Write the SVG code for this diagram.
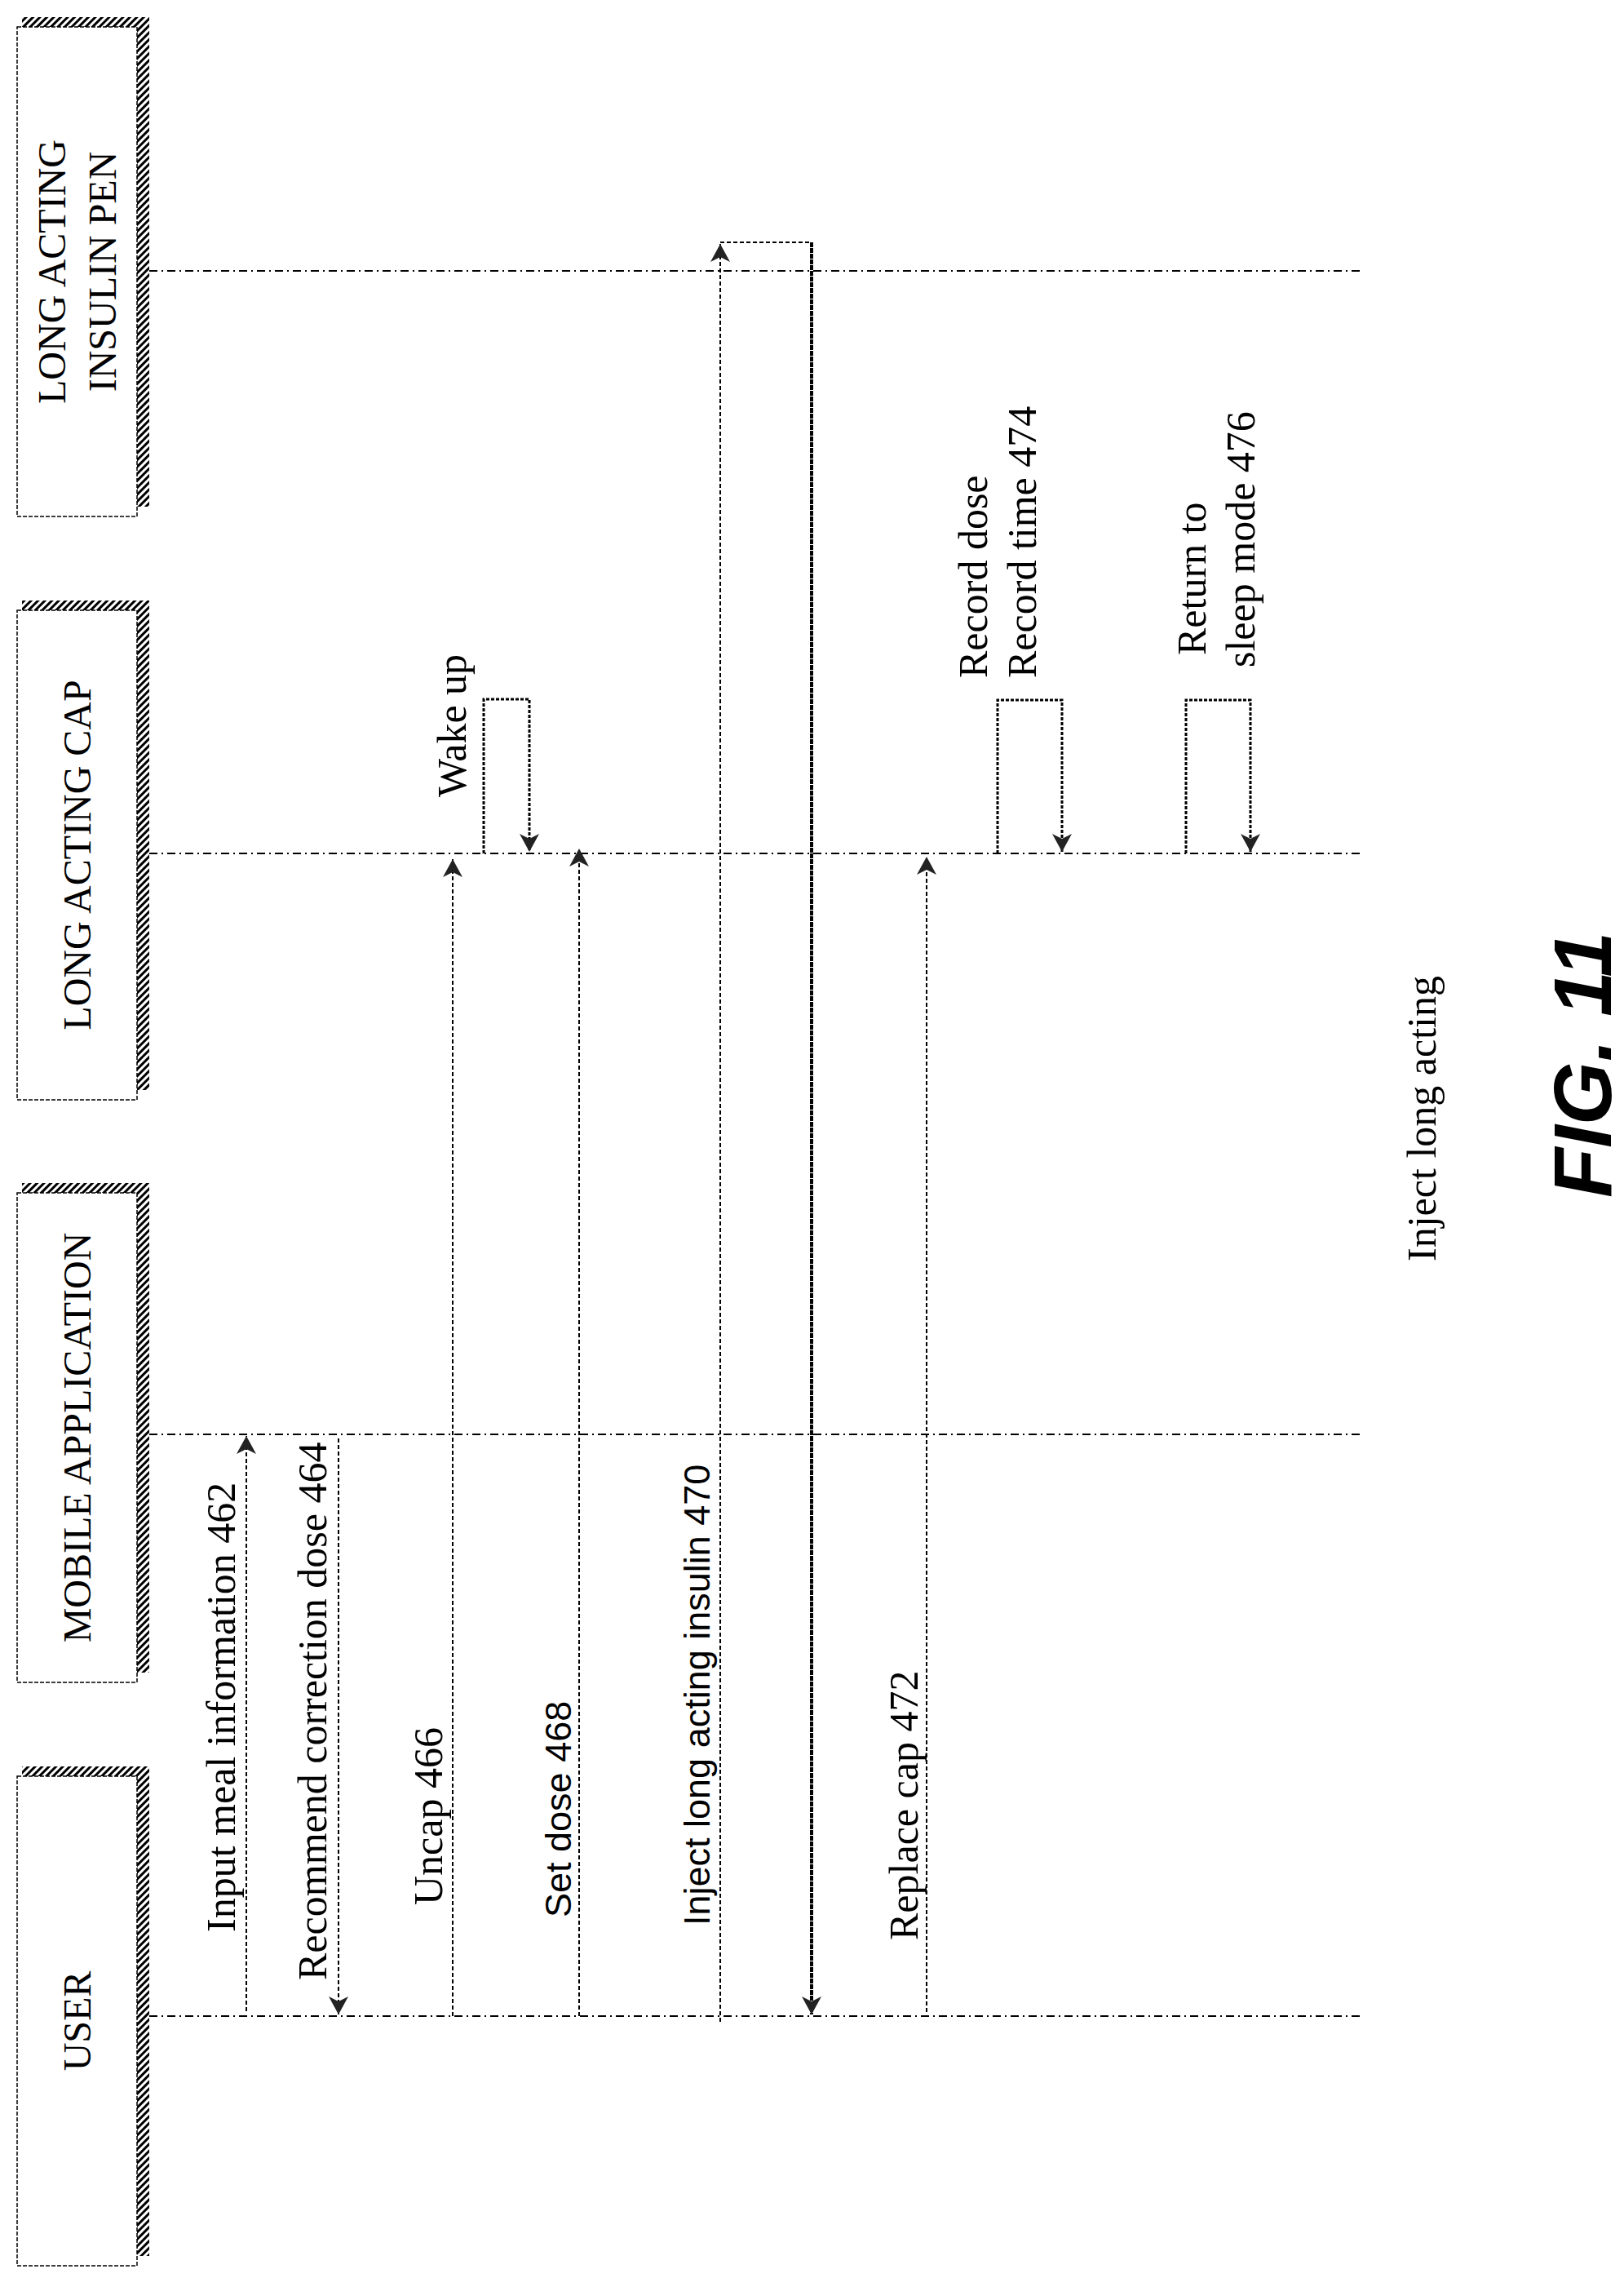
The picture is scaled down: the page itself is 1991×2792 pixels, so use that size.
<svg xmlns="http://www.w3.org/2000/svg" width="1991" height="2792" viewBox="0 0 1991 2792">
<style>
.bx{fill:#fff;stroke:#000;stroke-width:1.5;stroke-dasharray:5 2}
.sh{fill:url(#hatch)}
.ll{fill:none;stroke:#000;stroke-width:2;stroke-dasharray:10 5 2 5}
.msg{fill:none;stroke:#000;stroke-width:2;stroke-dasharray:5 3}
.loop{fill:none;stroke:#000;stroke-width:3;stroke-dasharray:4 2}
.solid{fill:none;stroke:#000;stroke-width:4;stroke-dasharray:6 1}
.hd{font-family:"Liberation Serif","Times New Roman",serif;font-size:48px;fill:#000}
.sf{font-family:"Liberation Serif","Times New Roman",serif;font-size:50px;fill:#000}
.ss{font-family:"Liberation Sans",Arial,sans-serif;font-size:45px;fill:#000}
.fig{font-family:"Liberation Sans",Arial,sans-serif;font-size:100px;font-weight:bold;font-style:italic;fill:#000}
</style>
<defs>
<pattern id="hatch" width="6" height="6" patternUnits="userSpaceOnUse" patternTransform="rotate(45)">
<rect width="6" height="6" fill="#fff"/><rect width="3" height="6" fill="#000"/>
</pattern>
<marker id="ah" markerWidth="24" markerHeight="26" refX="22" refY="13" orient="auto" markerUnits="userSpaceOnUse">
<path d="M0,1 L22,13 L0,25 L6,13 Z" fill="#222"/>
</marker>
</defs>
<rect width="1991" height="2792" fill="#fff"/>

<g id="node-pen">
<rect class="sh" x="27" y="21" width="156" height="600"/>
<rect class="bx" x="21" y="33" width="147" height="600"/>
<text class="hd" text-anchor="middle" transform="translate(80,333) rotate(-90)">LONG ACTING</text>
<text class="hd" text-anchor="middle" transform="translate(142,333) rotate(-90)">INSULIN PEN</text>
</g>
<g id="node-cap">
<rect class="sh" x="27" y="736" width="156" height="600"/>
<rect class="bx" x="21" y="748" width="147" height="600"/>
<text class="hd" text-anchor="middle" transform="translate(111,1048) rotate(-90)">LONG ACTING CAP</text>
</g>
<g id="node-mobile">
<rect class="sh" x="27" y="1450" width="156" height="600"/>
<rect class="bx" x="21" y="1462" width="147" height="600"/>
<text class="hd" text-anchor="middle" transform="translate(111,1762) rotate(-90)">MOBILE APPLICATION</text>
</g>
<g id="node-user">
<rect class="sh" x="27" y="2165" width="156" height="600"/>
<rect class="bx" x="21" y="2177" width="147" height="600"/>
<text class="hd" text-anchor="middle" transform="translate(111,2477) rotate(-90)">USER</text>
</g>

<g id="connectors">
<line class="ll" x1="183" y1="332" x2="1671" y2="332"/>
<line class="ll" x1="183" y1="1046" x2="1671" y2="1046"/>
<line class="ll" x1="183" y1="1758" x2="1671" y2="1758"/>
<line class="ll" x1="183" y1="2471" x2="1671" y2="2471"/>

<line class="msg" x1="302" y1="2465" x2="302" y2="1760" marker-end="url(#ah)"/>
<line class="msg" x1="415" y1="1763" x2="415" y2="2469" marker-end="url(#ah)"/>
<line class="msg" x1="555" y1="2471" x2="555" y2="1053" marker-end="url(#ah)"/>
<line class="msg" x1="710" y1="2471" x2="710" y2="1040" marker-end="url(#ah)"/>
<line class="msg" x1="883" y1="2478" x2="883" y2="299" marker-end="url(#ah)"/>
<path class="msg" d="M883,297 H995"/>
<path class="solid" d="M995,297 V2469" marker-end="url(#ah)"/>
<line class="msg" x1="1136" y1="2466" x2="1136" y2="1050" marker-end="url(#ah)"/>
<path class="loop" d="M593,1046 V857 H649 V1044" marker-end="url(#ah)"/>
<path class="loop" d="M1223,1046 V858 H1302 V1044" marker-end="url(#ah)"/>
<path class="loop" d="M1454,1046 V858 H1533 V1044" marker-end="url(#ah)"/>
</g>

<g id="labels">
<text class="sf" transform="translate(288,2368) rotate(-90)">Input meal information 462</text>
<text class="sf" transform="translate(400,2427) rotate(-90)">Recommend correction dose 464</text>
<text class="sf" transform="translate(542,2335) rotate(-90)">Uncap 466</text>
<text class="ss" transform="translate(700,2350) rotate(-90)">Set dose 468</text>
<text class="ss" transform="translate(870,2360) rotate(-90)">Inject long acting insulin 470</text>
<text class="sf" transform="translate(1125,2378) rotate(-90)">Replace cap 472</text>
<text class="sf" transform="translate(571,977) rotate(-90)">Wake up</text>
<text class="sf" transform="translate(1210,831) rotate(-90)">Record dose</text>
<text class="sf" transform="translate(1270,831) rotate(-90)">Record time 474</text>
<text class="sf" transform="translate(1478,803) rotate(-90)">Return to</text>
<text class="sf" transform="translate(1538,818) rotate(-90)">sleep mode 476</text>
<text class="sf" text-anchor="middle" transform="translate(1760,1371) rotate(-90)">Inject long acting</text>
<text class="fig" text-anchor="middle" transform="translate(1975,1305) rotate(-90)">FIG. 11</text>
</g>
</svg>
